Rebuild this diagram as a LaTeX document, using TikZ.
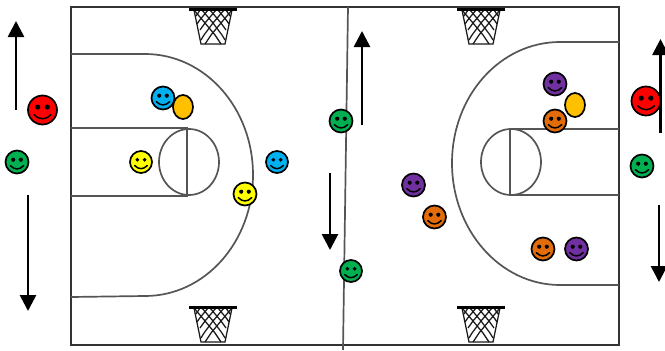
\documentclass[tikz,border=0pt]{standalone}
\usetikzlibrary{arrows.meta,shapes.geometric}
\definecolor{sred}{RGB}{255,0,0}
\definecolor{sgreen}{RGB}{0,176,80}
\definecolor{sblue}{RGB}{0,176,240}
\definecolor{syellow}{RGB}{255,255,0}
\definecolor{sgold}{RGB}{255,192,0}
\definecolor{spurple}{RGB}{112,48,160}
\definecolor{sorange}{RGB}{226,107,10}
\definecolor{lineg}{RGB}{85,85,85}
\tikzset{
  court/.style={draw=lineg,line width=1.7pt},
  border/.style={draw=black!80,line width=1.5pt},
  move/.style={draw=black,line width=2.7pt,-{Triangle[length=16pt,width=16pt]}},
  face/.style={circle,draw=black,line width=1.7pt,inner sep=0pt},
  ballface/.style={ellipse,draw=black,line width=1.7pt,fill=sgold,inner sep=0pt,minimum width=20pt,minimum height=24pt},
  rim/.style={draw=black,line width=3.6pt},
  netline/.style={draw=black!90,line width=1.25pt},
}
% name, x, y, radius, colour
\newcommand{\smileyface}[5]{%
  \node[face,fill=#5,minimum size=#4*2pt] (#1) at (#2,#3) {};
  \fill[black] (#2-#4*.33,#3-#4*.2) circle[radius=#4*.18];
  \fill[black] (#2+#4*.33,#3-#4*.2) circle[radius=#4*.18];
  \draw[black,line width=1.5pt,line cap=round] (#2-#4*.58,#3+#4*.32) .. controls (#2-#4*.2,#3+#4*.7) and (#2+#4*.2,#3+#4*.7) .. (#2+#4*.58,#3+#4*.32);
}
% centre x, top y
\newcommand{\hoopnet}[2]{%
  \begin{scope}[shift={(#1,#2)}]
    \draw[netline] (-19,2) -- (-12,36) -- (12,36) -- (19,2);
    \draw[netline] (-19,2) -- (-8,15) -- (2,27) -- (8,36);
    \draw[netline] (-11,2) -- (0,15) -- (9,27) -- (12,32);
    \draw[netline] (-3,2) -- (8,15) -- (13,22);
    \draw[netline] (5,2) -- (14,13) -- (16,16);
    \draw[netline] (13,2) -- (17,8);
    \draw[netline] (19,2) -- (8,15) -- (-2,27) -- (-8,36);
    \draw[netline] (11,2) -- (0,15) -- (-9,27) -- (-12,32);
    \draw[netline] (3,2) -- (-8,15) -- (-13,22);
    \draw[netline] (-5,2) -- (-14,13) -- (-16,16);
    \draw[netline] (-13,2) -- (-17,8);
    \draw[rim] (-24,1.5) -- (24,1.5);
  \end{scope}%
}
\begin{document}
\begin{tikzpicture}[x=1pt,y=-1pt]
\useasboundingbox (0,0) rectangle (665,351);
% court
\draw[border] (71,7) rectangle (619,345);
\coordinate (midtop) at (348,7);
\coordinate (midbot) at (343,350);
\draw[court] (midtop) -- (midbot);
% left half
\draw[court] (71,54) -- (145,54) .. controls (205,54) and (253,108) .. (253,175) .. controls (253,242) and (205,296) .. (145,296) -- (71,297);
\draw[court] (71,128) -- (187,128) -- (187,196) -- (71,196);
\draw[court] (189,162) ellipse[x radius=30,y radius=33];
% right half
\draw[court] (619,42) -- (560,42) .. controls (500,42) and (452,96) .. (452,163) .. controls (452,230) and (500,285) .. (560,285) -- (619,285);
\draw[court] (619,129) -- (510,129) -- (510,195) -- (619,195);
\draw[court] (511,162) ellipse[x radius=30,y radius=33];
% hoops
\hoopnet{213}{8}
\hoopnet{481}{8}
\hoopnet{213}{306}
\hoopnet{481}{306}
% arrows
\coordinate (a1) at (16,110); \coordinate (a2) at (16,21);
\coordinate (b1) at (28,195); \coordinate (b2) at (28,311);
\coordinate (c1) at (362,125); \coordinate (c2) at (362,31);
\coordinate (d1) at (330,173); \coordinate (d2) at (330,250);
\coordinate (e1) at (660.5,133); \coordinate (e2) at (660.5,39);
\coordinate (f1) at (659,205); \coordinate (f2) at (659,282);
\draw[move] (a1) -- (a2);
\draw[move] (b1) -- (b2);
\draw[move] (c1) -- (c2);
\draw[move] (d1) -- (d2);
\draw[move] (e1) -- (e2);
\draw[move] (f1) -- (f2);
% players
\smileyface{redl}{42.5}{110}{14.5}{sred}
\smileyface{greenl}{17}{162}{11.5}{sgreen}
\node[ballface] (goldl) at (183,107) {};
\smileyface{bluea}{163}{98}{11.5}{sblue}
\smileyface{yellowa}{141}{162}{11}{syellow}
\smileyface{blueb}{277}{162}{11}{sblue}
\smileyface{yellowb}{245}{194}{11.5}{syellow}
\smileyface{greena}{341}{121}{11.5}{sgreen}
\smileyface{greenb}{351}{271}{11}{sgreen}
\smileyface{purplea}{413.5}{185}{11.5}{spurple}
\smileyface{orangea}{434.5}{217}{11.5}{sorange}
\smileyface{purpleb}{555}{84}{11.5}{spurple}
\node[ballface] (goldr) at (575,105) {};
\smileyface{orangeb}{555}{121}{11.5}{sorange}
\smileyface{redr}{646}{101}{14.5}{sred}
\smileyface{greenr}{642}{166}{11.5}{sgreen}
\smileyface{orangec}{543}{249}{11.5}{sorange}
\smileyface{purplec}{576.5}{249}{11.5}{spurple}
\end{tikzpicture}
\end{document}
